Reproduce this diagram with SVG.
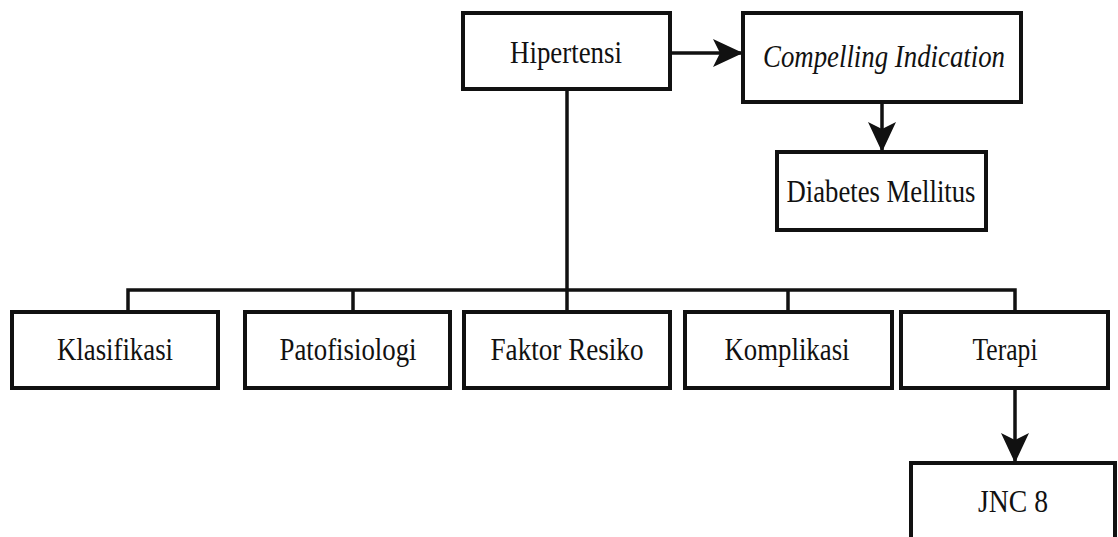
<svg xmlns="http://www.w3.org/2000/svg" width="1118" height="537" viewBox="0 0 1118 537">
<style>
.box{fill:#fff;stroke:#111;stroke-width:4}
.t{font-family:'Liberation Serif','Times New Roman',serif;font-size:32px;fill:#111;text-anchor:middle}
.i{font-style:italic}
.c{fill:none;stroke:#111;stroke-width:3.5}
</style>
<defs>
<marker id="ah" markerUnits="userSpaceOnUse" viewBox="0 0 30 28" refX="30" refY="14" markerWidth="30" markerHeight="28" orient="auto">
<path d="M0,0 L30,14 L0,28 L7,14 Z" fill="#111"/>
</marker>
</defs>
<rect width="1118" height="537" fill="#fff"/>
<g id="connectors">
<line class="c" x1="670" y1="53" x2="743" y2="53" marker-end="url(#ah)"/>
<line class="c" x1="882" y1="102" x2="882" y2="152" marker-end="url(#ah)"/>
<line class="c" x1="567" y1="89" x2="567" y2="290"/>
<polyline class="c" points="128,312 128,290 1015,290 1015,312"/>
<line class="c" x1="353" y1="290" x2="353" y2="312"/>
<line class="c" x1="567" y1="290" x2="567" y2="312"/>
<line class="c" x1="788" y1="290" x2="788" y2="312"/>
<line class="c" x1="1015" y1="388" x2="1015" y2="463" marker-end="url(#ah)"/>
</g>
<g id="hipertensi"><rect class="box" x="463" y="13" width="207" height="76"/><text class="t" x="566" y="63" textLength="112" lengthAdjust="spacingAndGlyphs">Hipertensi</text></g>
<g id="compelling"><rect class="box" x="743" y="13" width="278" height="89"/><text class="t i" x="884" y="67" textLength="242" lengthAdjust="spacingAndGlyphs">Compelling Indication</text></g>
<g id="diabetes"><rect class="box" x="777" y="152" width="209" height="78"/><text class="t" x="881" y="202" textLength="189" lengthAdjust="spacingAndGlyphs">Diabetes Mellitus</text></g>
<g id="klasifikasi"><rect class="box" x="12" y="312" width="206" height="76"/><text class="t" x="115" y="360" textLength="116" lengthAdjust="spacingAndGlyphs">Klasifikasi</text></g>
<g id="patofisiologi"><rect class="box" x="245" y="312" width="205" height="76"/><text class="t" x="348" y="360" textLength="137" lengthAdjust="spacingAndGlyphs">Patofisiologi</text></g>
<g id="faktor"><rect class="box" x="464" y="312" width="206" height="76"/><text class="t" x="567" y="360" textLength="153" lengthAdjust="spacingAndGlyphs">Faktor Resiko</text></g>
<g id="komplikasi"><rect class="box" x="685" y="312" width="207" height="76"/><text class="t" x="787" y="360" textLength="125" lengthAdjust="spacingAndGlyphs">Komplikasi</text></g>
<g id="terapi"><rect class="box" x="901" y="312" width="207" height="76"/><text class="t" x="1005" y="360" textLength="65" lengthAdjust="spacingAndGlyphs">Terapi</text></g>
<g id="jnc8"><rect class="box" x="911" y="463" width="204" height="80"/><text class="t" x="1013" y="512" textLength="70" lengthAdjust="spacingAndGlyphs">JNC 8</text></g>
</svg>
